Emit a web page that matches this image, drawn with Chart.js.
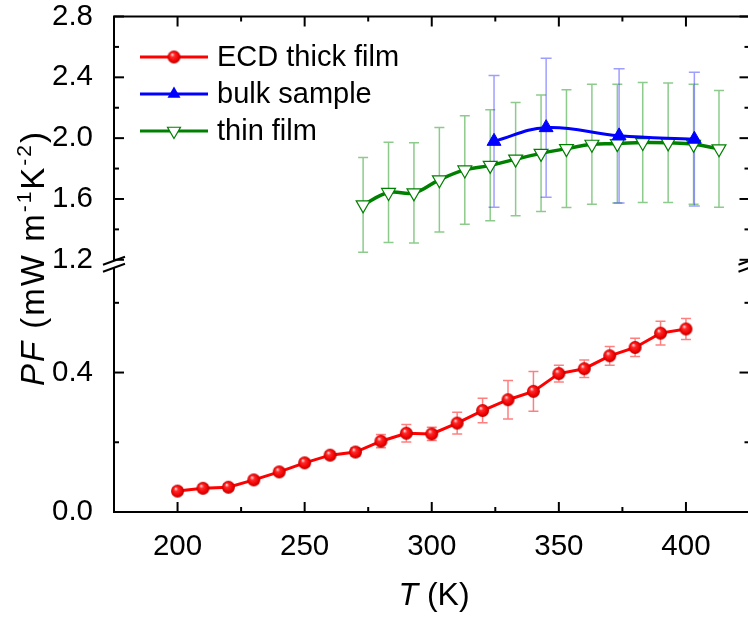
<!DOCTYPE html>
<html><head><meta charset="utf-8">
<script src="https://cdn.jsdelivr.net/npm/chart.js@4/dist/chart.umd.min.js"></script>
<style>html,body{margin:0;padding:0;overflow:hidden;background:#fff;width:748px;height:617px}
#wrap{width:760px;height:617px;overflow:hidden}</style></head>
<body><div id="wrap"><canvas id="c" width="760" height="617"></canvas></div>
<script>
// ---- data ----
const ecdT = [200,210,220,230,240,250,260,270,280,290,300,310,320,330,340,350,360,370,380,390,400];
const ecdPF = [0.060,0.068,0.071,0.092,0.115,0.141,0.163,0.172,0.203,0.226,0.224,0.255,0.291,0.322,0.346,0.397,0.411,0.448,0.472,0.513,0.525];
const ecdErr = [0.010,0.010,0.010,0.010,0.010,0.010,0.010,0.012,0.019,0.025,0.019,0.031,0.035,0.055,0.057,0.024,0.025,0.027,0.026,0.034,0.030];
const bulkT = [324.5,345,373.7,403.3];
const bulkPF = [1.979,2.069,2.015,1.993];
const bulkErr = [0.433,0.457,0.441,0.440];
const thinT = [273,283,293,303,313,323,333,343,353,363,373,383,393,403,413];
const thinPF = [1.561,1.643,1.640,1.726,1.791,1.821,1.862,1.900,1.931,1.960,1.964,1.971,1.969,1.960,1.930];
const thinErr = [0.311,0.330,0.330,0.344,0.357,0.365,0.372,0.383,0.387,0.395,0.391,0.395,0.393,0.395,0.384];
const seriesLabels = ['ECD thick film','bulk sample','thin film'];
const xMajorTicks = [200,250,300,350,400];
const xMinorTicks = [225,275,325,375];
const yTopMajor = [1.2,1.6,2.0,2.4,2.8];
const yTopMinor = [1.4,1.8,2.2,2.6];
const yBotMajor = [0.0,0.4];
const yBotMinor = [0.2,0.6];

const FAM = "'Liberation Sans', Arial, sans-serif";
const tickFont = {family: FAM, size: 29.5, lineHeight: 1.2};

function sphere(r){
  const s = Math.ceil(2*r+2), c = document.createElement('canvas');
  c.width = s; c.height = s;
  const g = c.getContext('2d'), cx = s/2, cy = s/2;
  const gr = g.createRadialGradient(cx-r*0.3, cy-r*0.4, r*0.05, cx, cy, r);
  gr.addColorStop(0,'#ffe0e0'); gr.addColorStop(0.28,'#ff2a2a'); gr.addColorStop(0.75,'#f00000'); gr.addColorStop(1,'#b00000');
  g.fillStyle = gr; g.beginPath(); g.arc(cx,cy,r,0,Math.PI*2); g.fill();
  return c;
}
const sph = sphere(6.5);

const isIn = (arr,v)=>arr.some(m=>Math.abs(m-v)<1e-6);
const mk = (T,V)=>T.map((t,i)=>({x:t,y:V[i]}));

const errPlugin = {id:'errbars', beforeDatasetsDraw(chart){
  const ctx = chart.ctx, xs = chart.scales.x;
  const specs = [
    {t:thinT, v:thinPF, e:thinErr, ax:'yTop', c:'rgba(0,140,0,0.45)', cap:5},
    {t:bulkT, v:bulkPF, e:bulkErr, ax:'yTop', c:'rgba(40,40,255,0.45)', cap:5.5},
    {t:ecdT, v:ecdPF, e:ecdErr, ax:'yBot', c:'rgba(255,0,0,0.5)', cap:5}
  ];
  ctx.save(); ctx.lineWidth = 1.5;
  specs.forEach(s=>{
    const ys = chart.scales[s.ax]; ctx.strokeStyle = s.c;
    s.t.forEach((t,i)=>{
      const x = xs.getPixelForValue(t), y1 = ys.getPixelForValue(s.v[i]+s.e[i]), y2 = ys.getPixelForValue(s.v[i]-s.e[i]);
      ctx.beginPath(); ctx.moveTo(x,y1); ctx.lineTo(x,y2);
      ctx.moveTo(x-s.cap,y1); ctx.lineTo(x+s.cap,y1);
      ctx.moveTo(x-s.cap,y2); ctx.lineTo(x+s.cap,y2); ctx.stroke();
    });
  });
  ctx.restore();
}};

function ln(ctx,a,b,c,d){ctx.beginPath();ctx.moveTo(a,b);ctx.lineTo(c,d);ctx.stroke();}

const decoPlugin = {id:'deco', afterDraw(chart){
  const ctx = chart.ctx, A = chart.chartArea, xs = chart.scales.x, yt = chart.scales.yTop, yb = chart.scales.yBot;
  const L = A.left, R = A.right, T = A.top, B = A.bottom, brk = yt.bottom, g = 3.5;
  ctx.save(); ctx.strokeStyle = '#000'; ctx.lineWidth = 2; ctx.lineCap = 'butt';
  ln(ctx,L-1,T,R+1,T); ln(ctx,L-1,B,R+1,B);
  [L,R].forEach(X=>{ ln(ctx,X,T,X,brk-g); ln(ctx,X,brk+g,X,B); });
  const MAJ = 10, MIN = 5;
  xMajorTicks.forEach(v=>{const p = xs.getPixelForValue(v); ln(ctx,p,B,p,B-MAJ); ln(ctx,p,T,p,T+MAJ);});
  xMinorTicks.forEach(v=>{const p = xs.getPixelForValue(v); ln(ctx,p,B,p,B-MIN); ln(ctx,p,T,p,T+MIN);});
  const yt2 = [[yt,yTopMajor,MAJ],[yt,yTopMinor,MIN],[yb,yBotMajor,MAJ],[yb,yBotMinor,MIN]];
  yt2.forEach(([sc,arr,len])=>arr.forEach(v=>{const p = sc.getPixelForValue(v); ln(ctx,L,p,L+len,p); ln(ctx,R,p,R-len,p);}));
  // break marks
  ctx.lineWidth = 2;
  [L,R].forEach(X=>{
    ctx.fillStyle = '#fff'; ctx.fillRect(X-1.5, brk-g+1, 3, 2*g-2);
    ln(ctx,X-11,brk-g+4,X+11,brk-g-4);
    ln(ctx,X-11,brk+g+4,X+11,brk+g-4);
  });
  // legend
  const rows = [57,94,131], lx1 = 140, lx2 = 208, mx = 174, tx = 217;
  const cols = ['#ff0000','#0000ff','#008000'];
  ctx.font = "29px " + FAM; ctx.fillStyle = '#000'; ctx.textBaseline = 'alphabetic'; ctx.textAlign = 'left';
  rows.forEach((y,i)=>{
    ctx.strokeStyle = cols[i]; ctx.lineWidth = 3; ln(ctx,lx1,y,lx2,y);
    if(i===0){ ctx.drawImage(sph, mx-sph.width/2, y-sph.height/2); }
    else if(i===1){ const r=7.5; ctx.fillStyle='#0000ff'; ctx.beginPath();
      ctx.moveTo(mx,y-r); ctx.lineTo(mx+r*0.866,y+r/2); ctx.lineTo(mx-r*0.866,y+r/2); ctx.closePath(); ctx.fill(); }
    else { const r=7.5; ctx.fillStyle='#fff'; ctx.strokeStyle='#008000'; ctx.lineWidth=1.2; ctx.beginPath();
      ctx.moveTo(mx,y+r); ctx.lineTo(mx+r*0.866,y-r/2); ctx.lineTo(mx-r*0.866,y-r/2); ctx.closePath(); ctx.fill(); ctx.stroke(); }
    ctx.fillStyle = '#000'; ctx.fillText(seriesLabels[i], tx, y+9);
  });
  // x title
  const f = 32;
  ctx.font = "italic "+f+"px "+FAM; const wT = ctx.measureText('T').width;
  ctx.font = f+"px "+FAM; const wK = ctx.measureText(' (K)').width;
  let x0 = 434 - (wT+wK)/2;
  ctx.font = "italic "+f+"px "+FAM; ctx.fillText('T', x0, 605);
  ctx.font = f+"px "+FAM; ctx.fillText(' (K)', x0+wT, 605);
  // y title
  const parts = [{t:'PF',it:1},{t:' (mW m'},{t:'-1',sup:1},{t:'K'},{t:'-2',sup:1},{t:')'}];
  const fs = 33, ss = 21;
  ctx.letterSpacing = '2px';
  const fontOf = p => (p.it?'italic ':'') + (p.sup?ss:fs) + 'px ' + FAM;
  let tot = 0; parts.forEach(p=>{ctx.font = fontOf(p); p.w = ctx.measureText(p.t).width; tot += p.w;});
  ctx.translate(44, 258); ctx.rotate(-Math.PI/2);
  let px = -tot/2;
  parts.forEach(p=>{ctx.font = fontOf(p); ctx.fillText(p.t, px, p.sup?-13:0); px += p.w;});
  ctx.restore();
}};

const ctx = document.getElementById('c').getContext('2d');
const yCommon = (major, minor, min, max) => ({
  type:'linear', position:'left', stack:'left', stackWeight:1, min, max,
  grid:{display:false}, border:{display:false},
  ticks:{font:tickFont, color:'#000', padding:13, autoSkip:false,
    callback:v=> isIn(major,v) ? Number(v).toFixed(1) : ''},
  afterBuildTicks:s=>{ s.ticks = [...major,...minor].sort((a,b)=>a-b).map(v=>({value:v})); },
  afterFit:s=>{ s.width = 114; s.paddingTop = 0; s.paddingBottom = 0; }
});
new Chart(ctx, {
  type:'line',
  data:{datasets:[
    {label:seriesLabels[0], data:mk(ecdT,ecdPF), yAxisID:'yBot', borderColor:'#ff0000', borderWidth:3,
     pointStyle:sph, pointRadius:6.5, tension:0},
    {label:seriesLabels[1], data:mk(bulkT,bulkPF), yAxisID:'yTop', borderColor:'#0000ff', borderWidth:3,
     pointStyle:'triangle', pointRadius:8, pointBackgroundColor:'#0000ff', pointBorderColor:'#0000ff', pointBorderWidth:1, tension:0.4},
    {label:seriesLabels[2], data:mk(thinT,thinPF), yAxisID:'yTop', borderColor:'#008000', borderWidth:3.5,
     pointStyle:'triangle', pointRotation:180, pointRadius:8, pointBackgroundColor:'#ffffff', pointBorderColor:'#008000', pointBorderWidth:1.2, tension:0.4}
  ]},
  options:{
    responsive:false, animation:false, devicePixelRatio:1,
    layout:{padding:{top:16.5,left:0,right:10.5,bottom:0}},
    plugins:{legend:{display:false}, tooltip:{enabled:false}},
    scales:{
      x:{type:'linear', position:'bottom', min:175, max:425, grid:{display:false}, border:{display:false},
         ticks:{font:tickFont, color:'#000', padding:9, maxRotation:0, autoSkip:false, callback:v=>String(v)},
         afterBuildTicks:s=>{ s.ticks = xMajorTicks.map(v=>({value:v})); },
         afterFit:s=>{ s.height = 105; s.paddingLeft = 0; s.paddingRight = 0; }},
      yBot: yCommon(yBotMajor, yBotMinor, 0, 0.7106),
      yTop: yCommon(yTopMajor, yTopMinor, 1.1707, 2.8)
    }
  },
  plugins:[errPlugin, decoPlugin]
});
</script></body></html>
